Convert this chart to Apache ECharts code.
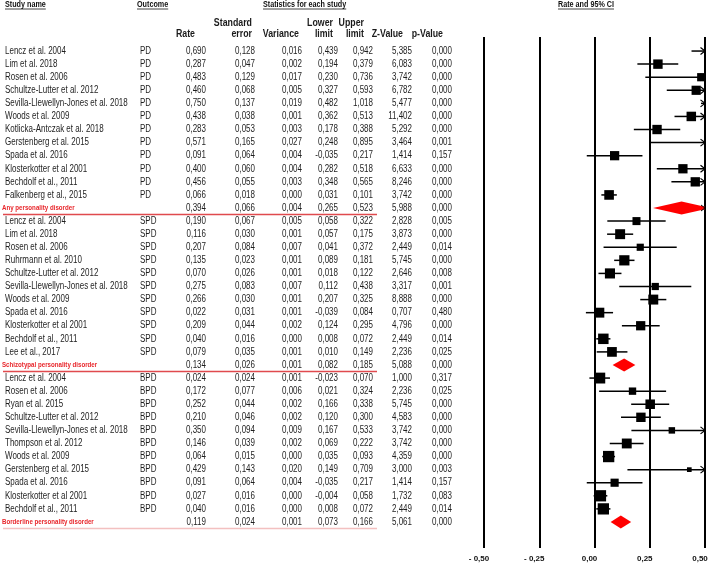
<!DOCTYPE html>
<html><head><meta charset="utf-8">
<script src="https://cdn.jsdelivr.net/npm/echarts@6/dist/echarts.min.js"></script>
<style>html,body{margin:0;padding:0;background:#fff}#c{width:708px;height:563px}</style>
</head><body><div id="c"></div>
<script>
// ---------- DATA ----------
const groupLabels = ['Any personality disorder', 'Schizotypal personality disorder', 'Borderline personality disorder'];
const groupOutcome = ['PD', 'SPD', 'BPD'];

const studyPD = ['Lencz et al. 2004','Lim et al. 2018','Rosen et al. 2006','Schultze-Lutter et al. 2012','Sevilla-Llewellyn-Jones et al. 2018','Woods et al. 2009','Kotlicka-Antczak et al. 2018','Gerstenberg et al. 2015','Spada et al. 2016','Klosterkotter et al 2001','Bechdolf et al., 2011','Falkenberg et al., 2015'];
const ratePD = [0.690,0.287,0.483,0.460,0.750,0.438,0.283,0.571,0.091,0.400,0.456,0.066];
const sePD   = [0.128,0.047,0.129,0.068,0.137,0.038,0.053,0.165,0.064,0.060,0.055,0.018];
const varPD  = [0.016,0.002,0.017,0.005,0.019,0.001,0.003,0.027,0.004,0.004,0.003,0.000];
const lowPD  = [0.439,0.194,0.230,0.327,0.482,0.362,0.178,0.248,-0.035,0.282,0.348,0.031];
const upPD   = [0.942,0.379,0.736,0.593,1.018,0.513,0.388,0.895,0.217,0.518,0.565,0.101];
const zPD    = [5.385,6.083,3.742,6.782,5.477,11.402,5.292,3.464,1.414,6.633,8.246,3.742];
const pPD    = [0.000,0.000,0.000,0.000,0.000,0.000,0.000,0.001,0.157,0.000,0.000,0.000];
const sumPD  = [0.394,0.066,0.004,0.265,0.523,5.988,0.000];

const studySPD = ['Lencz et al. 2004','Lim et al. 2018','Rosen et al. 2006','Ruhrmann et al. 2010','Schultze-Lutter et al. 2012','Sevilla-Llewellyn-Jones et al. 2018','Woods et al. 2009','Spada et al. 2016','Klosterkotter et al 2001','Bechdolf et al., 2011','Lee et al., 2017'];
const rateSPD = [0.190,0.116,0.207,0.135,0.070,0.275,0.266,0.022,0.209,0.040,0.079];
const seSPD   = [0.067,0.030,0.084,0.023,0.026,0.083,0.030,0.031,0.044,0.016,0.035];
const varSPD  = [0.005,0.001,0.007,0.001,0.001,0.007,0.001,0.001,0.002,0.000,0.001];
const lowSPD  = [0.058,0.057,0.041,0.089,0.018,0.112,0.207,-0.039,0.124,0.008,0.010];
const upSPD   = [0.322,0.175,0.372,0.181,0.122,0.438,0.325,0.084,0.295,0.072,0.149];
const zSPD    = [2.828,3.873,2.449,5.745,2.646,3.317,8.888,0.707,4.796,2.449,2.236];
const pSPD    = [0.005,0.000,0.014,0.000,0.008,0.001,0.000,0.480,0.000,0.014,0.025];
const sumSPD  = [0.134,0.026,0.001,0.082,0.185,5.088,0.000];

const studyBPD = ['Lencz et al. 2004','Rosen et al. 2006','Ryan et al. 2015','Schultze-Lutter et al. 2012','Sevilla-Llewellyn-Jones et al. 2018','Thompson et al. 2012','Woods et al. 2009','Gerstenberg et al. 2015','Spada et al. 2016','Klosterkotter et al 2001','Bechdolf et al., 2011'];
const rateBPD = [0.024,0.172,0.252,0.210,0.350,0.146,0.064,0.429,0.091,0.027,0.040];
const seBPD   = [0.024,0.077,0.044,0.046,0.094,0.039,0.015,0.143,0.064,0.016,0.016];
const varBPD  = [0.001,0.006,0.002,0.002,0.009,0.002,0.000,0.020,0.004,0.000,0.000];
const lowBPD  = [-0.023,0.021,0.166,0.120,0.167,0.069,0.035,0.149,-0.035,-0.004,0.008];
const upBPD   = [0.070,0.324,0.338,0.300,0.533,0.222,0.093,0.709,0.217,0.058,0.072];
const zBPD    = [1.000,2.236,5.745,4.583,3.742,3.742,4.359,3.000,1.414,1.732,2.449];
const pBPD    = [0.317,0.025,0.000,0.000,0.000,0.000,0.000,0.003,0.157,0.083,0.014];
const sumBPD  = [0.119,0.024,0.001,0.073,0.166,5.061,0.000];

const axisTicks = [-0.5, -0.25, 0, 0.25, 0.5];
const colHeaders1 = ['', 'Standard', '', 'Lower', 'Upper', '', ''];
const colHeaders2 = ['Rate', 'error', 'Variance', 'limit', 'limit', 'Z-Value', 'p-Value'];

// ---------- BUILD ROWS ----------
const groups = [
  {study: studyPD, rate: ratePD, se: sePD, vr: varPD, low: lowPD, up: upPD, z: zPD, p: pPD, sum: sumPD},
  {study: studySPD, rate: rateSPD, se: seSPD, vr: varSPD, low: lowSPD, up: upSPD, z: zSPD, p: pSPD, sum: sumSPD},
  {study: studyBPD, rate: rateBPD, se: seBPD, vr: varBPD, low: lowBPD, up: upBPD, z: zBPD, p: pBPD, sum: sumBPD}
];
const rows = [];
groups.forEach((g, gi) => {
  // DerSimonian-Laird random-effects weights -> box size
  const w = g.se.map(s => 1 / (s * s));
  const W = w.reduce((a, b) => a + b, 0);
  const m = w.reduce((a, wi, i) => a + wi * g.rate[i], 0) / W;
  const Q = w.reduce((a, wi, i) => a + wi * Math.pow(g.rate[i] - m, 2), 0);
  const C = W - w.reduce((a, wi) => a + wi * wi, 0) / W;
  const tau2 = Math.max(0, (Q - (w.length - 1)) / C);
  const wr = g.se.map(s => 1 / (s * s + tau2));
  const WR = wr.reduce((a, b) => a + b, 0);
  g.study.forEach((n, i) => {
    rows.push({name: n, outcome: groupOutcome[gi], rate: g.rate[i], se: g.se[i], vr: g.vr[i], low: g.low[i], up: g.up[i], z: g.z[i], p: g.p[i], summary: false,
      size: Math.max(4, 3.1 * Math.sqrt(100 * wr[i] / WR))});
  });
  const s = g.sum;
  rows.push({name: groupLabels[gi], outcome: '', rate: s[0], se: s[1], vr: s[2], low: s[3], up: s[4], z: s[5], p: s[6], summary: true, last: gi === groups.length - 1});
});
const cats = rows.map((r, i) => String(i));

// ---------- RENDER ----------
const fmt = v => v.toFixed(3).replace('.', ',');
const ROWFONT = '10px "Liberation Sans", Arial, sans-serif';
const SX = 0.8;
function txt(str, x, y, align, font, fill, sx) {
  return {type: 'text', x: x, y: y, scaleX: sx, silent: true,
    style: {text: str, x: 0, y: 0, align: align, textAlign: align, verticalAlign: 'middle', textVerticalAlign: 'middle', font: font, fill: fill}};
}
const numCols = [206, 255, 302, 338, 373, 412, 452];

function renderItem(params, api) {
  const r = rows[params.dataIndex];
  const idx = api.value(1);
  const cs = params.coordSys;
  const xL = cs.x, xR = cs.x + cs.width;
  const y = api.coord([0, idx])[1];
  const px = v => api.coord([v, idx])[0];
  const ch = [];
  // table text
  if (r.summary) {
    ch.push(txt(r.name, 2, y, 'left', 'bold 8px "Liberation Sans", Arial, sans-serif', '#e8262b', 0.77));
  } else {
    ch.push(txt(r.name, 5, y, 'left', ROWFONT, '#1e1e1e', SX));
    ch.push(txt(r.outcome, 140, y, 'left', ROWFONT, '#1e1e1e', SX));
  }
  [r.rate, r.se, r.vr, r.low, r.up, r.z, r.p].forEach((v, k) => {
    ch.push(txt(fmt(v), numCols[k], y, 'right', ROWFONT, '#1e1e1e', SX));
  });
  const x1raw = px(r.low), x2raw = px(r.up), xc = px(r.rate);
  const x1 = Math.max(x1raw, xL), x2 = Math.min(x2raw, xR);
  if (r.summary) {
    ch.push({type: 'line', silent: true, shape: {x1: 3, y1: y + 6.5, x2: 377, y2: y + 6.5},
      style: {stroke: r.last ? '#f3c0c0' : '#e04a4e', lineWidth: 1.5}});
    const h = 6.5;
    let pts;
    if (x2raw > xR) {
      const t = (x2raw - xR) / (x2raw - xc);
      pts = [[x1raw, y], [xc, y - h], [xR, y - h * t], [xR, y + h * t], [xc, y + h]];
    } else {
      pts = [[x1raw, y], [xc, y - h], [x2raw, y], [xc, y + h]];
    }
    ch.push({type: 'polygon', silent: true, shape: {points: pts}, style: {fill: '#ff0000'}});
    if (x2raw > xR) {
      ch.push({type: 'polyline', silent: true, shape: {points: [[xR - 4, y - 3], [xR, y], [xR - 4, y + 3]]}, style: {stroke: '#000', lineWidth: 1, fill: null}});
    }
  } else {
    if (x2 > x1) {
      ch.push({type: 'line', silent: true, shape: {x1: x1, y1: y, x2: x2, y2: y}, style: {stroke: '#000', lineWidth: 1.5}});
    }
    if (x2raw > xR) {
      ch.push({type: 'polyline', silent: true, shape: {points: [[xR - 4.5, y - 3.5], [xR, y], [xR - 4.5, y + 3.5]]}, style: {stroke: '#000', lineWidth: 1.2, fill: null}});
    }
    if (x1raw < xL) {
      ch.push({type: 'polyline', silent: true, shape: {points: [[xL + 4.5, y - 3.5], [xL, y], [xL + 4.5, y + 3.5]]}, style: {stroke: '#000', lineWidth: 1.2, fill: null}});
    }
    if (r.rate >= axisTicks[0] && r.rate <= axisTicks[axisTicks.length - 1]) {
      const s = r.size;
      const a = Math.max(xc - s / 2, xL), b = Math.min(xc + s / 2, xR);
      ch.push({type: 'rect', silent: true, shape: {x: a, y: y - s / 2, width: b - a, height: s}, style: {fill: '#000'}});
    }
  }
  return {type: 'group', children: ch};
}

// header graphics
const mctx = document.createElement('canvas').getContext('2d');
function tw(font, s) { mctx.font = font; return mctx.measureText(s).width; }
const HFONT = 'bold 9px "Liberation Sans", Arial, sans-serif';
const CHFONT = 'bold 11px "Liberation Sans", Arial, sans-serif';
const gfx = [];
function headerU(str, x, align) {
  const w = tw(HFONT, str) * SX;
  gfx.push({type: 'text', x: x, y: 4.5, scaleX: SX, silent: true,
    style: {text: str, x: 0, y: 0, align: align, textAlign: align, verticalAlign: 'middle', textVerticalAlign: 'middle', font: HFONT, fill: '#111'}});
  const x0 = align === 'center' ? x - w / 2 : x;
  gfx.push({type: 'line', silent: true, shape: {x1: x0, y1: 9, x2: x0 + w, y2: 9}, style: {stroke: '#111', lineWidth: 0.8}});
}
headerU('Study name', 5, 'left');
headerU('Outcome', 137, 'left');
headerU('Statistics for each study', 263, 'left');
headerU('Rate and 95% CI', 586, 'center');
const hdrRight = [195, 252, 299, 333, 364, 403, 443];
hdrRight.forEach((x, k) => {
  if (colHeaders1[k]) gfx.push({type: 'text', x: x, y: 23, scaleX: SX, silent: true,
    style: {text: colHeaders1[k], x: 0, y: 0, align: 'right', textAlign: 'right', verticalAlign: 'middle', textVerticalAlign: 'middle', font: CHFONT, fill: '#1a1a1a'}});
  gfx.push({type: 'text', x: x, y: 34, scaleX: SX, silent: true,
    style: {text: colHeaders2[k], x: 0, y: 0, align: 'right', textAlign: 'right', verticalAlign: 'middle', textVerticalAlign: 'middle', font: CHFONT, fill: '#1a1a1a'}});
});

const chart = echarts.init(document.getElementById('c'), null, {renderer: 'canvas'});
chart.setOption({
  animation: false,
  backgroundColor: '#fff',
  graphic: {elements: gfx},
  grid: [
    {left: 484, right: 3, top: 44.5, bottom: 34.5, outerBoundsMode: 'none', containLabel: false},
    {left: 484, right: 3, top: 37, bottom: 15, outerBoundsMode: 'none', containLabel: false}
  ],
  xAxis: [
    {gridIndex: 0, type: 'value', min: axisTicks[0], max: axisTicks[axisTicks.length - 1], interval: 0.25, show: false},
    {gridIndex: 1, type: 'value', min: axisTicks[0], max: axisTicks[axisTicks.length - 1], interval: 0.25,
      axisLine: {show: false}, axisTick: {show: false},
      splitLine: {show: true, showMinLine: true, showMaxLine: true, lineStyle: {color: '#000', width: 2, type: 'solid'}},
      axisLabel: {margin: 7, fontSize: 8, fontWeight: 'bold', color: '#111', fontFamily: '"Liberation Sans", Arial, sans-serif',
        padding: [0, 10, 0, 0],
        formatter: v => (v < 0 ? '- ' : '') + Math.abs(v).toFixed(2).replace('.', ',')}}
  ],
  yAxis: [
    {gridIndex: 0, type: 'category', data: cats, inverse: true, show: false},
    {gridIndex: 1, type: 'value', show: false, splitLine: {show: false}}
  ],
  series: [{
    type: 'custom', xAxisIndex: 0, yAxisIndex: 0, renderItem: renderItem, clip: false, z: 5,
    encode: {x: 0, y: 1},
    data: rows.map((r, i) => [r.rate, i])
  }]
});
</script></body></html>
